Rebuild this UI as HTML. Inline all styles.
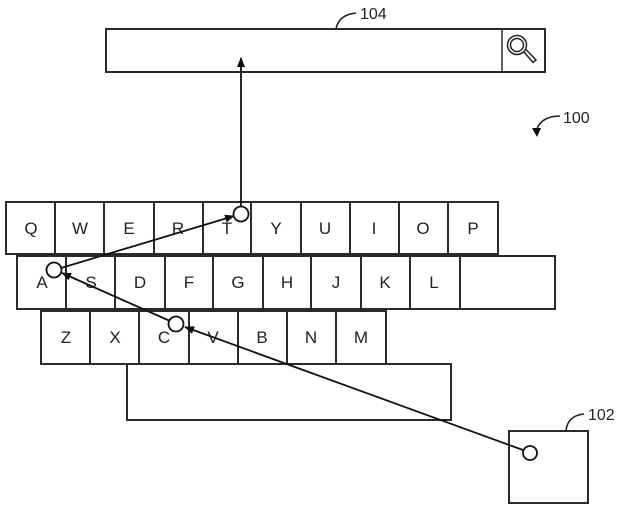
<!DOCTYPE html>
<html><head><meta charset="utf-8"><style>
html,body{margin:0;padding:0;background:#fff;}
svg{display:block;}
text{font-family:"Liberation Sans",Arial,sans-serif;fill:#222;}
</style></head><body>
<svg width="620" height="511" viewBox="0 0 620 511" xmlns="http://www.w3.org/2000/svg">
<defs>
<marker id="ah" viewBox="0 0 10 10" refX="9" refY="5" markerWidth="10" markerHeight="10" markerUnits="userSpaceOnUse" orient="auto">
<path d="M0,1 L10,5 L0,9 z" fill="#111"/>
</marker>
</defs>
<g fill="#fff" stroke="#2a2a2a" stroke-width="2">
<rect x="106" y="29" width="439" height="43"/>
<line x1="502" y1="29" x2="502" y2="72" stroke-width="1.5"/>
<rect x="6" y="202" width="49" height="52"/><rect x="55" y="202" width="49" height="52"/>
<rect x="104" y="202" width="50" height="52"/><rect x="154" y="202" width="49" height="52"/>
<rect x="203" y="202" width="48" height="52"/><rect x="251" y="202" width="50" height="52"/>
<rect x="301" y="202" width="49" height="52"/><rect x="350" y="202" width="49" height="52"/>
<rect x="399" y="202" width="49" height="52"/><rect x="448" y="202" width="50" height="52"/>
<rect x="17" y="256" width="49" height="53"/><rect x="66" y="256" width="49" height="53"/>
<rect x="115" y="256" width="50" height="53"/><rect x="165" y="256" width="48" height="53"/>
<rect x="213" y="256" width="50" height="53"/><rect x="263" y="256" width="48" height="53"/>
<rect x="311" y="256" width="50" height="53"/><rect x="361" y="256" width="49" height="53"/>
<rect x="410" y="256" width="50" height="53"/><rect x="460" y="256" width="95" height="53"/>
<rect x="41" y="311" width="49" height="53"/><rect x="90" y="311" width="49" height="53"/>
<rect x="139" y="311" width="50" height="53"/><rect x="189" y="311" width="49" height="53"/>
<rect x="238" y="311" width="49" height="53"/><rect x="287" y="311" width="49" height="53"/>
<rect x="336" y="311" width="50" height="53"/>
<rect x="127" y="364" width="324" height="56"/>
<rect x="509" y="431" width="79" height="72"/>
</g>
<!-- magnifier -->
<g fill="none" stroke="#222" stroke-width="1.5">
<circle cx="517" cy="45" r="9.5"/>
<circle cx="517" cy="45" r="6.5"/>
<path d="M524,52 L533,62.5 L536,60 L526,49.5"/>
</g>
<g font-size="17" text-anchor="middle">
<text x="31" y="234">Q</text><text x="80" y="234">W</text><text x="129" y="234">E</text>
<text x="178" y="234">R</text><text x="227" y="234">T</text><text x="276" y="234">Y</text>
<text x="325" y="234">U</text><text x="374" y="234">I</text><text x="423" y="234">O</text>
<text x="473" y="234">P</text>
<text x="42" y="288">A</text><text x="91" y="288">S</text><text x="140" y="288">D</text>
<text x="189" y="288">F</text><text x="238" y="288">G</text><text x="287" y="288">H</text>
<text x="336" y="288">J</text><text x="385" y="288">K</text><text x="434" y="288">L</text>
<text x="66" y="343">Z</text><text x="115" y="343">X</text><text x="164" y="343">C</text>
<text x="213" y="343">V</text><text x="262" y="343">B</text><text x="311" y="343">N</text>
<text x="361" y="343">M</text>
</g>
<g font-size="16">
<text x="360" y="19">104</text>
<text x="563" y="123">100</text>
<text x="588" y="420">102</text>
</g>
<g fill="none" stroke="#222" stroke-width="1.6">
<path d="M336,29 C338,18 346,14 356,13"/>
<path d="M566,431 C567,420 574,415 584,414"/>
<path d="M560,116 C549,116 540,120 537,129"/>
</g>
<path d="M532,128 L537,137 L541,128 z" fill="#111"/>
<g fill="none" stroke="#111" stroke-width="1.8">
<line x1="523" y1="450" x2="185" y2="327" marker-end="url(#ah)"/>
<line x1="170" y1="321" x2="62" y2="273" marker-end="url(#ah)"/>
<line x1="61" y1="268" x2="234" y2="216" marker-end="url(#ah)"/>
<line x1="241" y1="206" x2="241" y2="58" marker-end="url(#ah)"/>
</g>
<g fill="#fff" stroke="#111" stroke-width="1.8">
<circle cx="241" cy="214" r="7.5"/>
<circle cx="54" cy="270" r="7.5"/>
<circle cx="176" cy="324" r="7.5"/>
<circle cx="530" cy="453" r="7"/>
</g>
</svg>
</body></html>
